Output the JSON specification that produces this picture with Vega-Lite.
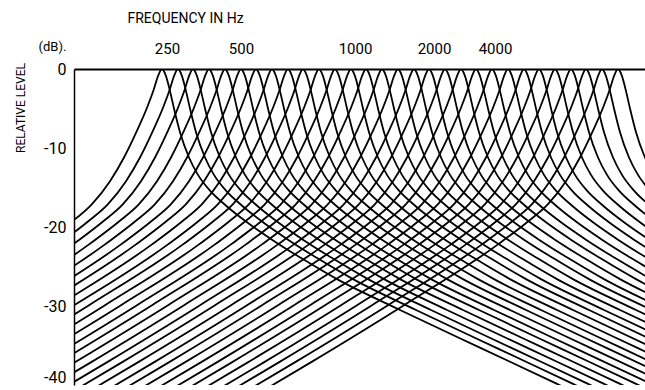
{
"$schema": "https://vega.github.io/schema/vega-lite/v6.json",
"width": 571, "height": 316,
"autosize": {"type": "none"},
"padding": {"left": 74, "top": 69, "right": 0, "bottom": 5},
"background": "white",
"config": {"view": {"stroke": null}, "font": "Roboto, Liberation Sans, sans-serif"},
"title": {"text": "RELATIVE LEVEL", "orient": "left", "anchor": "end", "frame": "group", "fontSize": 12, "fontWeight": "normal", "color": "black", "offset": 10, "dx": 6},
"data": {"values": [
{"f":0,"x":88,"y":0},{"f":0,"x":84,"y":-0.9},{"f":0,"x":80,"y":-2.5},{"f":0,"x":73,"y":-4.9},{"f":0,"x":63,"y":-7.8},{"f":0,"x":50,"y":-11.2},{"f":0,"x":36,"y":-14.2},{"f":0,"x":18,"y":-17.1},{"f":0,"x":-2,"y":-19.3},
{"f":0,"x":92,"y":-0.9},{"f":0,"x":96,"y":-2.8},{"f":0,"x":100,"y":-5},{"f":0,"x":106,"y":-8},{"f":0,"x":115,"y":-11.2},{"f":0,"x":124,"y":-13.4},{"f":0,"x":136,"y":-15.4},{"f":0,"x":153,"y":-17.4},{"f":0,"x":173,"y":-19.4},{"f":0,"x":198,"y":-21.6},{"f":0,"x":228,"y":-24},{"f":0,"x":263,"y":-26.6},{"f":0,"x":326,"y":-30.5},{"f":0,"x":408,"y":-35.4},{"f":0,"x":482,"y":-39.8},{"f":0,"x":518,"y":-42},
{"f":1,"x":104,"y":0},{"f":1,"x":100,"y":-0.9},{"f":1,"x":96,"y":-2.5},{"f":1,"x":89,"y":-4.9},{"f":1,"x":79,"y":-7.8},{"f":1,"x":66,"y":-11.2},{"f":1,"x":52,"y":-14.2},{"f":1,"x":34,"y":-17.1},{"f":1,"x":14,"y":-19.3},{"f":1,"x":-16,"y":-22.2},
{"f":1,"x":108,"y":-0.9},{"f":1,"x":112,"y":-2.8},{"f":1,"x":116,"y":-5},{"f":1,"x":122,"y":-8},{"f":1,"x":131,"y":-11.2},{"f":1,"x":140,"y":-13.4},{"f":1,"x":152,"y":-15.4},{"f":1,"x":169,"y":-17.4},{"f":1,"x":189,"y":-19.4},{"f":1,"x":214,"y":-21.6},{"f":1,"x":244,"y":-24},{"f":1,"x":279,"y":-26.6},{"f":1,"x":342,"y":-30.5},{"f":1,"x":424,"y":-35.4},{"f":1,"x":498,"y":-39.8},{"f":1,"x":534,"y":-42},
{"f":2,"x":119,"y":0},{"f":2,"x":115,"y":-0.9},{"f":2,"x":111,"y":-2.5},{"f":2,"x":104,"y":-4.9},{"f":2,"x":94,"y":-7.8},{"f":2,"x":81,"y":-11.2},{"f":2,"x":67,"y":-14.2},{"f":2,"x":49,"y":-17.1},{"f":2,"x":29,"y":-19.3},{"f":2,"x":-1,"y":-22.2},
{"f":2,"x":123,"y":-0.9},{"f":2,"x":127,"y":-2.8},{"f":2,"x":131,"y":-5},{"f":2,"x":137,"y":-8},{"f":2,"x":146,"y":-11.2},{"f":2,"x":155,"y":-13.4},{"f":2,"x":167,"y":-15.4},{"f":2,"x":184,"y":-17.4},{"f":2,"x":204,"y":-19.4},{"f":2,"x":229,"y":-21.6},{"f":2,"x":259,"y":-24},{"f":2,"x":294,"y":-26.6},{"f":2,"x":357,"y":-30.5},{"f":2,"x":439,"y":-35.4},{"f":2,"x":513,"y":-39.8},{"f":2,"x":549,"y":-42},
{"f":3,"x":135,"y":0},{"f":3,"x":131,"y":-0.9},{"f":3,"x":127,"y":-2.5},{"f":3,"x":120,"y":-4.9},{"f":3,"x":110,"y":-7.8},{"f":3,"x":97,"y":-11.2},{"f":3,"x":83,"y":-14.2},{"f":3,"x":65,"y":-17.1},{"f":3,"x":45,"y":-19.3},{"f":3,"x":15,"y":-22.2},{"f":3,"x":-79,"y":-29.9},
{"f":3,"x":139,"y":-0.9},{"f":3,"x":143,"y":-2.8},{"f":3,"x":147,"y":-5},{"f":3,"x":153,"y":-8},{"f":3,"x":162,"y":-11.2},{"f":3,"x":171,"y":-13.4},{"f":3,"x":183,"y":-15.4},{"f":3,"x":200,"y":-17.4},{"f":3,"x":220,"y":-19.4},{"f":3,"x":245,"y":-21.6},{"f":3,"x":275,"y":-24},{"f":3,"x":310,"y":-26.6},{"f":3,"x":373,"y":-30.5},{"f":3,"x":455,"y":-35.4},{"f":3,"x":529,"y":-39.8},{"f":3,"x":565,"y":-42},
{"f":4,"x":151,"y":0},{"f":4,"x":147,"y":-0.9},{"f":4,"x":143,"y":-2.5},{"f":4,"x":136,"y":-4.9},{"f":4,"x":126,"y":-7.8},{"f":4,"x":113,"y":-11.2},{"f":4,"x":99,"y":-14.2},{"f":4,"x":81,"y":-17.1},{"f":4,"x":61,"y":-19.3},{"f":4,"x":31,"y":-22.2},{"f":4,"x":-63,"y":-29.9},
{"f":4,"x":155,"y":-0.9},{"f":4,"x":159,"y":-2.8},{"f":4,"x":163,"y":-5},{"f":4,"x":169,"y":-8},{"f":4,"x":178,"y":-11.2},{"f":4,"x":187,"y":-13.4},{"f":4,"x":199,"y":-15.4},{"f":4,"x":216,"y":-17.4},{"f":4,"x":236,"y":-19.4},{"f":4,"x":261,"y":-21.6},{"f":4,"x":291,"y":-24},{"f":4,"x":326,"y":-26.6},{"f":4,"x":389,"y":-30.5},{"f":4,"x":471,"y":-35.4},{"f":4,"x":545,"y":-39.8},{"f":4,"x":581,"y":-42},
{"f":5,"x":167,"y":0},{"f":5,"x":163,"y":-0.9},{"f":5,"x":159,"y":-2.5},{"f":5,"x":152,"y":-4.9},{"f":5,"x":142,"y":-7.8},{"f":5,"x":129,"y":-11.2},{"f":5,"x":115,"y":-14.2},{"f":5,"x":97,"y":-17.1},{"f":5,"x":77,"y":-19.3},{"f":5,"x":47,"y":-22.2},{"f":5,"x":-47,"y":-29.9},
{"f":5,"x":171,"y":-0.9},{"f":5,"x":175,"y":-2.8},{"f":5,"x":179,"y":-5},{"f":5,"x":185,"y":-8},{"f":5,"x":194,"y":-11.2},{"f":5,"x":203,"y":-13.4},{"f":5,"x":215,"y":-15.4},{"f":5,"x":232,"y":-17.4},{"f":5,"x":252,"y":-19.4},{"f":5,"x":277,"y":-21.6},{"f":5,"x":307,"y":-24},{"f":5,"x":342,"y":-26.6},{"f":5,"x":405,"y":-30.5},{"f":5,"x":487,"y":-35.4},{"f":5,"x":561,"y":-39.8},{"f":5,"x":597,"y":-42},
{"f":6,"x":182,"y":0},{"f":6,"x":178,"y":-0.9},{"f":6,"x":174,"y":-2.5},{"f":6,"x":167,"y":-4.9},{"f":6,"x":157,"y":-7.8},{"f":6,"x":144,"y":-11.2},{"f":6,"x":130,"y":-14.2},{"f":6,"x":112,"y":-17.1},{"f":6,"x":92,"y":-19.3},{"f":6,"x":62,"y":-22.2},{"f":6,"x":-32,"y":-29.9},
{"f":6,"x":186,"y":-0.9},{"f":6,"x":190,"y":-2.8},{"f":6,"x":194,"y":-5},{"f":6,"x":200,"y":-8},{"f":6,"x":209,"y":-11.2},{"f":6,"x":218,"y":-13.4},{"f":6,"x":230,"y":-15.4},{"f":6,"x":247,"y":-17.4},{"f":6,"x":267,"y":-19.4},{"f":6,"x":292,"y":-21.6},{"f":6,"x":322,"y":-24},{"f":6,"x":357,"y":-26.6},{"f":6,"x":420,"y":-30.5},{"f":6,"x":502,"y":-35.4},{"f":6,"x":576,"y":-39.8},
{"f":7,"x":198,"y":0},{"f":7,"x":194,"y":-0.9},{"f":7,"x":190,"y":-2.5},{"f":7,"x":183,"y":-4.9},{"f":7,"x":173,"y":-7.8},{"f":7,"x":160,"y":-11.2},{"f":7,"x":146,"y":-14.2},{"f":7,"x":128,"y":-17.1},{"f":7,"x":108,"y":-19.3},{"f":7,"x":78,"y":-22.2},{"f":7,"x":-16,"y":-29.9},
{"f":7,"x":202,"y":-0.9},{"f":7,"x":206,"y":-2.8},{"f":7,"x":210,"y":-5},{"f":7,"x":216,"y":-8},{"f":7,"x":225,"y":-11.2},{"f":7,"x":234,"y":-13.4},{"f":7,"x":246,"y":-15.4},{"f":7,"x":263,"y":-17.4},{"f":7,"x":283,"y":-19.4},{"f":7,"x":308,"y":-21.6},{"f":7,"x":338,"y":-24},{"f":7,"x":373,"y":-26.6},{"f":7,"x":436,"y":-30.5},{"f":7,"x":518,"y":-35.4},{"f":7,"x":592,"y":-39.8},
{"f":8,"x":214,"y":0},{"f":8,"x":210,"y":-0.9},{"f":8,"x":206,"y":-2.5},{"f":8,"x":199,"y":-4.9},{"f":8,"x":189,"y":-7.8},{"f":8,"x":176,"y":-11.2},{"f":8,"x":162,"y":-14.2},{"f":8,"x":144,"y":-17.1},{"f":8,"x":124,"y":-19.3},{"f":8,"x":94,"y":-22.2},{"f":8,"x":0,"y":-29.9},
{"f":8,"x":218,"y":-0.9},{"f":8,"x":222,"y":-2.8},{"f":8,"x":226,"y":-5},{"f":8,"x":232,"y":-8},{"f":8,"x":241,"y":-11.2},{"f":8,"x":250,"y":-13.4},{"f":8,"x":262,"y":-15.4},{"f":8,"x":279,"y":-17.4},{"f":8,"x":299,"y":-19.4},{"f":8,"x":324,"y":-21.6},{"f":8,"x":354,"y":-24},{"f":8,"x":389,"y":-26.6},{"f":8,"x":452,"y":-30.5},{"f":8,"x":534,"y":-35.4},{"f":8,"x":608,"y":-39.8},
{"f":9,"x":229,"y":0},{"f":9,"x":225,"y":-0.9},{"f":9,"x":221,"y":-2.5},{"f":9,"x":214,"y":-4.9},{"f":9,"x":204,"y":-7.8},{"f":9,"x":191,"y":-11.2},{"f":9,"x":177,"y":-14.2},{"f":9,"x":159,"y":-17.1},{"f":9,"x":139,"y":-19.3},{"f":9,"x":109,"y":-22.2},{"f":9,"x":15,"y":-29.9},{"f":9,"x":-79,"y":-37.2},
{"f":9,"x":233,"y":-0.9},{"f":9,"x":237,"y":-2.8},{"f":9,"x":241,"y":-5},{"f":9,"x":247,"y":-8},{"f":9,"x":256,"y":-11.2},{"f":9,"x":265,"y":-13.4},{"f":9,"x":277,"y":-15.4},{"f":9,"x":294,"y":-17.4},{"f":9,"x":314,"y":-19.4},{"f":9,"x":339,"y":-21.6},{"f":9,"x":369,"y":-24},{"f":9,"x":404,"y":-26.6},{"f":9,"x":467,"y":-30.5},{"f":9,"x":549,"y":-35.4},{"f":9,"x":623,"y":-39.8},
{"f":10,"x":245,"y":0},{"f":10,"x":241,"y":-0.9},{"f":10,"x":237,"y":-2.5},{"f":10,"x":230,"y":-4.9},{"f":10,"x":220,"y":-7.8},{"f":10,"x":207,"y":-11.2},{"f":10,"x":193,"y":-14.2},{"f":10,"x":175,"y":-17.1},{"f":10,"x":155,"y":-19.3},{"f":10,"x":125,"y":-22.2},{"f":10,"x":31,"y":-29.9},{"f":10,"x":-63,"y":-37.2},
{"f":10,"x":249,"y":-0.9},{"f":10,"x":253,"y":-2.8},{"f":10,"x":257,"y":-5},{"f":10,"x":263,"y":-8},{"f":10,"x":272,"y":-11.2},{"f":10,"x":281,"y":-13.4},{"f":10,"x":293,"y":-15.4},{"f":10,"x":310,"y":-17.4},{"f":10,"x":330,"y":-19.4},{"f":10,"x":355,"y":-21.6},{"f":10,"x":385,"y":-24},{"f":10,"x":420,"y":-26.6},{"f":10,"x":483,"y":-30.5},{"f":10,"x":565,"y":-35.4},{"f":10,"x":639,"y":-39.8},
{"f":11,"x":261,"y":0},{"f":11,"x":257,"y":-0.9},{"f":11,"x":253,"y":-2.5},{"f":11,"x":246,"y":-4.9},{"f":11,"x":236,"y":-7.8},{"f":11,"x":223,"y":-11.2},{"f":11,"x":209,"y":-14.2},{"f":11,"x":191,"y":-17.1},{"f":11,"x":171,"y":-19.3},{"f":11,"x":141,"y":-22.2},{"f":11,"x":47,"y":-29.9},{"f":11,"x":-47,"y":-37.2},
{"f":11,"x":265,"y":-0.9},{"f":11,"x":269,"y":-2.8},{"f":11,"x":273,"y":-5},{"f":11,"x":279,"y":-8},{"f":11,"x":288,"y":-11.2},{"f":11,"x":297,"y":-13.4},{"f":11,"x":309,"y":-15.4},{"f":11,"x":326,"y":-17.4},{"f":11,"x":346,"y":-19.4},{"f":11,"x":371,"y":-21.6},{"f":11,"x":401,"y":-24},{"f":11,"x":436,"y":-26.6},{"f":11,"x":499,"y":-30.5},{"f":11,"x":581,"y":-35.4},
{"f":12,"x":277,"y":0},{"f":12,"x":273,"y":-0.9},{"f":12,"x":269,"y":-2.5},{"f":12,"x":262,"y":-4.9},{"f":12,"x":252,"y":-7.8},{"f":12,"x":239,"y":-11.2},{"f":12,"x":225,"y":-14.2},{"f":12,"x":207,"y":-17.1},{"f":12,"x":187,"y":-19.3},{"f":12,"x":157,"y":-22.2},{"f":12,"x":63,"y":-29.9},{"f":12,"x":-31,"y":-37.2},
{"f":12,"x":281,"y":-0.9},{"f":12,"x":285,"y":-2.8},{"f":12,"x":289,"y":-5},{"f":12,"x":295,"y":-8},{"f":12,"x":304,"y":-11.2},{"f":12,"x":313,"y":-13.4},{"f":12,"x":325,"y":-15.4},{"f":12,"x":342,"y":-17.4},{"f":12,"x":362,"y":-19.4},{"f":12,"x":387,"y":-21.6},{"f":12,"x":417,"y":-24},{"f":12,"x":452,"y":-26.6},{"f":12,"x":515,"y":-30.5},{"f":12,"x":597,"y":-35.4},
{"f":13,"x":292,"y":0},{"f":13,"x":288,"y":-0.9},{"f":13,"x":284,"y":-2.5},{"f":13,"x":277,"y":-4.9},{"f":13,"x":267,"y":-7.8},{"f":13,"x":254,"y":-11.2},{"f":13,"x":240,"y":-14.2},{"f":13,"x":222,"y":-17.1},{"f":13,"x":202,"y":-19.3},{"f":13,"x":172,"y":-22.2},{"f":13,"x":78,"y":-29.9},{"f":13,"x":-16,"y":-37.2},
{"f":13,"x":296,"y":-0.9},{"f":13,"x":300,"y":-2.8},{"f":13,"x":304,"y":-5},{"f":13,"x":310,"y":-8},{"f":13,"x":319,"y":-11.2},{"f":13,"x":328,"y":-13.4},{"f":13,"x":340,"y":-15.4},{"f":13,"x":357,"y":-17.4},{"f":13,"x":377,"y":-19.4},{"f":13,"x":402,"y":-21.6},{"f":13,"x":432,"y":-24},{"f":13,"x":467,"y":-26.6},{"f":13,"x":530,"y":-30.5},{"f":13,"x":612,"y":-35.4},
{"f":14,"x":308,"y":0},{"f":14,"x":304,"y":-0.9},{"f":14,"x":300,"y":-2.5},{"f":14,"x":293,"y":-4.9},{"f":14,"x":283,"y":-7.8},{"f":14,"x":270,"y":-11.2},{"f":14,"x":256,"y":-14.2},{"f":14,"x":238,"y":-17.1},{"f":14,"x":218,"y":-19.3},{"f":14,"x":188,"y":-22.2},{"f":14,"x":94,"y":-29.9},{"f":14,"x":0,"y":-37.2},
{"f":14,"x":312,"y":-0.9},{"f":14,"x":316,"y":-2.8},{"f":14,"x":320,"y":-5},{"f":14,"x":326,"y":-8},{"f":14,"x":335,"y":-11.2},{"f":14,"x":344,"y":-13.4},{"f":14,"x":356,"y":-15.4},{"f":14,"x":373,"y":-17.4},{"f":14,"x":393,"y":-19.4},{"f":14,"x":418,"y":-21.6},{"f":14,"x":448,"y":-24},{"f":14,"x":483,"y":-26.6},{"f":14,"x":546,"y":-30.5},{"f":14,"x":628,"y":-35.4},
{"f":15,"x":324,"y":0},{"f":15,"x":320,"y":-0.9},{"f":15,"x":316,"y":-2.5},{"f":15,"x":309,"y":-4.9},{"f":15,"x":299,"y":-7.8},{"f":15,"x":286,"y":-11.2},{"f":15,"x":272,"y":-14.2},{"f":15,"x":254,"y":-17.1},{"f":15,"x":234,"y":-19.3},{"f":15,"x":204,"y":-22.2},{"f":15,"x":110,"y":-29.9},{"f":15,"x":16,"y":-37.2},{"f":15,"x":-48,"y":-42},
{"f":15,"x":328,"y":-0.9},{"f":15,"x":332,"y":-2.8},{"f":15,"x":336,"y":-5},{"f":15,"x":342,"y":-8},{"f":15,"x":351,"y":-11.2},{"f":15,"x":360,"y":-13.4},{"f":15,"x":372,"y":-15.4},{"f":15,"x":389,"y":-17.4},{"f":15,"x":409,"y":-19.4},{"f":15,"x":434,"y":-21.6},{"f":15,"x":464,"y":-24},{"f":15,"x":499,"y":-26.6},{"f":15,"x":562,"y":-30.5},{"f":15,"x":644,"y":-35.4},
{"f":16,"x":340,"y":0},{"f":16,"x":336,"y":-0.9},{"f":16,"x":332,"y":-2.5},{"f":16,"x":325,"y":-4.9},{"f":16,"x":315,"y":-7.8},{"f":16,"x":302,"y":-11.2},{"f":16,"x":288,"y":-14.2},{"f":16,"x":270,"y":-17.1},{"f":16,"x":250,"y":-19.3},{"f":16,"x":220,"y":-22.2},{"f":16,"x":126,"y":-29.9},{"f":16,"x":32,"y":-37.2},{"f":16,"x":-32,"y":-42},
{"f":16,"x":344,"y":-0.9},{"f":16,"x":348,"y":-2.8},{"f":16,"x":352,"y":-5},{"f":16,"x":358,"y":-8},{"f":16,"x":367,"y":-11.2},{"f":16,"x":376,"y":-13.4},{"f":16,"x":388,"y":-15.4},{"f":16,"x":405,"y":-17.4},{"f":16,"x":425,"y":-19.4},{"f":16,"x":450,"y":-21.6},{"f":16,"x":480,"y":-24},{"f":16,"x":515,"y":-26.6},{"f":16,"x":578,"y":-30.5},
{"f":17,"x":355,"y":0},{"f":17,"x":351,"y":-0.9},{"f":17,"x":347,"y":-2.5},{"f":17,"x":340,"y":-4.9},{"f":17,"x":330,"y":-7.8},{"f":17,"x":317,"y":-11.2},{"f":17,"x":303,"y":-14.2},{"f":17,"x":285,"y":-17.1},{"f":17,"x":265,"y":-19.3},{"f":17,"x":235,"y":-22.2},{"f":17,"x":141,"y":-29.9},{"f":17,"x":47,"y":-37.2},{"f":17,"x":-17,"y":-42},
{"f":17,"x":359,"y":-0.9},{"f":17,"x":363,"y":-2.8},{"f":17,"x":367,"y":-5},{"f":17,"x":373,"y":-8},{"f":17,"x":382,"y":-11.2},{"f":17,"x":391,"y":-13.4},{"f":17,"x":403,"y":-15.4},{"f":17,"x":420,"y":-17.4},{"f":17,"x":440,"y":-19.4},{"f":17,"x":465,"y":-21.6},{"f":17,"x":495,"y":-24},{"f":17,"x":530,"y":-26.6},{"f":17,"x":593,"y":-30.5},
{"f":18,"x":371,"y":0},{"f":18,"x":367,"y":-0.9},{"f":18,"x":363,"y":-2.5},{"f":18,"x":356,"y":-4.9},{"f":18,"x":346,"y":-7.8},{"f":18,"x":333,"y":-11.2},{"f":18,"x":319,"y":-14.2},{"f":18,"x":301,"y":-17.1},{"f":18,"x":281,"y":-19.3},{"f":18,"x":251,"y":-22.2},{"f":18,"x":157,"y":-29.9},{"f":18,"x":63,"y":-37.2},{"f":18,"x":-1,"y":-42},
{"f":18,"x":375,"y":-0.9},{"f":18,"x":379,"y":-2.8},{"f":18,"x":383,"y":-5},{"f":18,"x":389,"y":-8},{"f":18,"x":398,"y":-11.2},{"f":18,"x":407,"y":-13.4},{"f":18,"x":419,"y":-15.4},{"f":18,"x":436,"y":-17.4},{"f":18,"x":456,"y":-19.4},{"f":18,"x":481,"y":-21.6},{"f":18,"x":511,"y":-24},{"f":18,"x":546,"y":-26.6},{"f":18,"x":609,"y":-30.5},
{"f":19,"x":387,"y":0},{"f":19,"x":383,"y":-0.9},{"f":19,"x":379,"y":-2.5},{"f":19,"x":372,"y":-4.9},{"f":19,"x":362,"y":-7.8},{"f":19,"x":349,"y":-11.2},{"f":19,"x":335,"y":-14.2},{"f":19,"x":317,"y":-17.1},{"f":19,"x":297,"y":-19.3},{"f":19,"x":267,"y":-22.2},{"f":19,"x":173,"y":-29.9},{"f":19,"x":79,"y":-37.2},{"f":19,"x":15,"y":-42},
{"f":19,"x":391,"y":-0.9},{"f":19,"x":395,"y":-2.8},{"f":19,"x":399,"y":-5},{"f":19,"x":405,"y":-8},{"f":19,"x":414,"y":-11.2},{"f":19,"x":423,"y":-13.4},{"f":19,"x":435,"y":-15.4},{"f":19,"x":452,"y":-17.4},{"f":19,"x":472,"y":-19.4},{"f":19,"x":497,"y":-21.6},{"f":19,"x":527,"y":-24},{"f":19,"x":562,"y":-26.6},{"f":19,"x":625,"y":-30.5},
{"f":20,"x":402,"y":0},{"f":20,"x":398,"y":-0.9},{"f":20,"x":394,"y":-2.5},{"f":20,"x":387,"y":-4.9},{"f":20,"x":377,"y":-7.8},{"f":20,"x":364,"y":-11.2},{"f":20,"x":350,"y":-14.2},{"f":20,"x":332,"y":-17.1},{"f":20,"x":312,"y":-19.3},{"f":20,"x":282,"y":-22.2},{"f":20,"x":188,"y":-29.9},{"f":20,"x":94,"y":-37.2},{"f":20,"x":30,"y":-42},
{"f":20,"x":406,"y":-0.9},{"f":20,"x":410,"y":-2.8},{"f":20,"x":414,"y":-5},{"f":20,"x":420,"y":-8},{"f":20,"x":429,"y":-11.2},{"f":20,"x":438,"y":-13.4},{"f":20,"x":450,"y":-15.4},{"f":20,"x":467,"y":-17.4},{"f":20,"x":487,"y":-19.4},{"f":20,"x":512,"y":-21.6},{"f":20,"x":542,"y":-24},{"f":20,"x":577,"y":-26.6},
{"f":21,"x":418,"y":0},{"f":21,"x":414,"y":-0.9},{"f":21,"x":410,"y":-2.5},{"f":21,"x":403,"y":-4.9},{"f":21,"x":393,"y":-7.8},{"f":21,"x":380,"y":-11.2},{"f":21,"x":366,"y":-14.2},{"f":21,"x":348,"y":-17.1},{"f":21,"x":328,"y":-19.3},{"f":21,"x":298,"y":-22.2},{"f":21,"x":204,"y":-29.9},{"f":21,"x":110,"y":-37.2},{"f":21,"x":46,"y":-42},
{"f":21,"x":422,"y":-0.9},{"f":21,"x":426,"y":-2.8},{"f":21,"x":430,"y":-5},{"f":21,"x":436,"y":-8},{"f":21,"x":445,"y":-11.2},{"f":21,"x":454,"y":-13.4},{"f":21,"x":466,"y":-15.4},{"f":21,"x":483,"y":-17.4},{"f":21,"x":503,"y":-19.4},{"f":21,"x":528,"y":-21.6},{"f":21,"x":558,"y":-24},{"f":21,"x":593,"y":-26.6},
{"f":22,"x":434,"y":0},{"f":22,"x":430,"y":-0.9},{"f":22,"x":426,"y":-2.5},{"f":22,"x":419,"y":-4.9},{"f":22,"x":409,"y":-7.8},{"f":22,"x":396,"y":-11.2},{"f":22,"x":382,"y":-14.2},{"f":22,"x":364,"y":-17.1},{"f":22,"x":344,"y":-19.3},{"f":22,"x":314,"y":-22.2},{"f":22,"x":220,"y":-29.9},{"f":22,"x":126,"y":-37.2},{"f":22,"x":62,"y":-42},
{"f":22,"x":438,"y":-0.9},{"f":22,"x":442,"y":-2.8},{"f":22,"x":446,"y":-5},{"f":22,"x":452,"y":-8},{"f":22,"x":461,"y":-11.2},{"f":22,"x":470,"y":-13.4},{"f":22,"x":482,"y":-15.4},{"f":22,"x":499,"y":-17.4},{"f":22,"x":519,"y":-19.4},{"f":22,"x":544,"y":-21.6},{"f":22,"x":574,"y":-24},
{"f":23,"x":450,"y":0},{"f":23,"x":446,"y":-0.9},{"f":23,"x":442,"y":-2.5},{"f":23,"x":435,"y":-4.9},{"f":23,"x":425,"y":-7.8},{"f":23,"x":412,"y":-11.2},{"f":23,"x":398,"y":-14.2},{"f":23,"x":380,"y":-17.1},{"f":23,"x":360,"y":-19.3},{"f":23,"x":330,"y":-22.2},{"f":23,"x":236,"y":-29.9},{"f":23,"x":142,"y":-37.2},{"f":23,"x":78,"y":-42},
{"f":23,"x":454,"y":-0.9},{"f":23,"x":458,"y":-2.8},{"f":23,"x":462,"y":-5},{"f":23,"x":468,"y":-8},{"f":23,"x":477,"y":-11.2},{"f":23,"x":486,"y":-13.4},{"f":23,"x":498,"y":-15.4},{"f":23,"x":515,"y":-17.4},{"f":23,"x":535,"y":-19.4},{"f":23,"x":560,"y":-21.6},{"f":23,"x":590,"y":-24},
{"f":24,"x":465,"y":0},{"f":24,"x":461,"y":-0.9},{"f":24,"x":457,"y":-2.5},{"f":24,"x":450,"y":-4.9},{"f":24,"x":440,"y":-7.8},{"f":24,"x":427,"y":-11.2},{"f":24,"x":413,"y":-14.2},{"f":24,"x":395,"y":-17.1},{"f":24,"x":375,"y":-19.3},{"f":24,"x":345,"y":-22.2},{"f":24,"x":251,"y":-29.9},{"f":24,"x":157,"y":-37.2},{"f":24,"x":93,"y":-42},
{"f":24,"x":469,"y":-0.9},{"f":24,"x":473,"y":-2.8},{"f":24,"x":477,"y":-5},{"f":24,"x":483,"y":-8},{"f":24,"x":492,"y":-11.2},{"f":24,"x":501,"y":-13.4},{"f":24,"x":513,"y":-15.4},{"f":24,"x":530,"y":-17.4},{"f":24,"x":550,"y":-19.4},{"f":24,"x":575,"y":-21.6},
{"f":25,"x":481,"y":0},{"f":25,"x":477,"y":-0.9},{"f":25,"x":473,"y":-2.5},{"f":25,"x":466,"y":-4.9},{"f":25,"x":456,"y":-7.8},{"f":25,"x":443,"y":-11.2},{"f":25,"x":429,"y":-14.2},{"f":25,"x":411,"y":-17.1},{"f":25,"x":391,"y":-19.3},{"f":25,"x":361,"y":-22.2},{"f":25,"x":267,"y":-29.9},{"f":25,"x":173,"y":-37.2},{"f":25,"x":109,"y":-42},
{"f":25,"x":485,"y":-0.9},{"f":25,"x":489,"y":-2.8},{"f":25,"x":493,"y":-5},{"f":25,"x":499,"y":-8},{"f":25,"x":508,"y":-11.2},{"f":25,"x":517,"y":-13.4},{"f":25,"x":529,"y":-15.4},{"f":25,"x":546,"y":-17.4},{"f":25,"x":566,"y":-19.4},{"f":25,"x":591,"y":-21.6},
{"f":26,"x":497,"y":0},{"f":26,"x":493,"y":-0.9},{"f":26,"x":489,"y":-2.5},{"f":26,"x":482,"y":-4.9},{"f":26,"x":472,"y":-7.8},{"f":26,"x":459,"y":-11.2},{"f":26,"x":445,"y":-14.2},{"f":26,"x":427,"y":-17.1},{"f":26,"x":407,"y":-19.3},{"f":26,"x":377,"y":-22.2},{"f":26,"x":283,"y":-29.9},{"f":26,"x":189,"y":-37.2},{"f":26,"x":125,"y":-42},
{"f":26,"x":501,"y":-0.9},{"f":26,"x":505,"y":-2.8},{"f":26,"x":509,"y":-5},{"f":26,"x":515,"y":-8},{"f":26,"x":524,"y":-11.2},{"f":26,"x":533,"y":-13.4},{"f":26,"x":545,"y":-15.4},{"f":26,"x":562,"y":-17.4},{"f":26,"x":582,"y":-19.4},
{"f":27,"x":512,"y":0},{"f":27,"x":508,"y":-0.9},{"f":27,"x":504,"y":-2.5},{"f":27,"x":497,"y":-4.9},{"f":27,"x":487,"y":-7.8},{"f":27,"x":474,"y":-11.2},{"f":27,"x":460,"y":-14.2},{"f":27,"x":442,"y":-17.1},{"f":27,"x":422,"y":-19.3},{"f":27,"x":392,"y":-22.2},{"f":27,"x":298,"y":-29.9},{"f":27,"x":204,"y":-37.2},{"f":27,"x":140,"y":-42},
{"f":27,"x":516,"y":-0.9},{"f":27,"x":520,"y":-2.8},{"f":27,"x":524,"y":-5},{"f":27,"x":530,"y":-8},{"f":27,"x":539,"y":-11.2},{"f":27,"x":548,"y":-13.4},{"f":27,"x":560,"y":-15.4},{"f":27,"x":577,"y":-17.4},
{"f":28,"x":528,"y":0},{"f":28,"x":524,"y":-0.9},{"f":28,"x":520,"y":-2.5},{"f":28,"x":513,"y":-4.9},{"f":28,"x":503,"y":-7.8},{"f":28,"x":490,"y":-11.2},{"f":28,"x":476,"y":-14.2},{"f":28,"x":458,"y":-17.1},{"f":28,"x":438,"y":-19.3},{"f":28,"x":408,"y":-22.2},{"f":28,"x":314,"y":-29.9},{"f":28,"x":220,"y":-37.2},{"f":28,"x":156,"y":-42},
{"f":28,"x":532,"y":-0.9},{"f":28,"x":536,"y":-2.8},{"f":28,"x":540,"y":-5},{"f":28,"x":546,"y":-8},{"f":28,"x":555,"y":-11.2},{"f":28,"x":564,"y":-13.4},{"f":28,"x":576,"y":-15.4},
{"f":29,"x":544,"y":0},{"f":29,"x":540,"y":-0.9},{"f":29,"x":536,"y":-2.5},{"f":29,"x":529,"y":-4.9},{"f":29,"x":519,"y":-7.8},{"f":29,"x":506,"y":-11.2},{"f":29,"x":492,"y":-14.2},{"f":29,"x":474,"y":-17.1},{"f":29,"x":454,"y":-19.3},{"f":29,"x":424,"y":-22.2},{"f":29,"x":330,"y":-29.9},{"f":29,"x":236,"y":-37.2},{"f":29,"x":172,"y":-42},
{"f":29,"x":548,"y":-0.9},{"f":29,"x":552,"y":-2.8},{"f":29,"x":556,"y":-5},{"f":29,"x":562,"y":-8},{"f":29,"x":571,"y":-11.2},{"f":29,"x":580,"y":-13.4}
]},
"mark": {"type": "line", "clip": true, "color": "black", "strokeWidth": 1.8, "interpolate": "monotone"},
"encoding": {
  "x": {"field": "x", "type": "quantitative", "scale": {"domain": [0, 571], "nice": false, "zero": false},
    "axis": {"orient": "top", "values": [93, 167, 281, 360, 421],
      "labelExpr": "{'93':'250','167':'500','281':'1000','360':'2000','421':'4000'}[datum.value]",
      "ticks": false, "grid": false, "domainColor": "black", "domainWidth": 2,
      "labelFontSize": 15, "labelColor": "black", "labelPadding": 13,
      "title": "FREQUENCY IN Hz", "titleFontSize": 14, "titleFontWeight": "normal", "titleColor": "black",
      "titleX": 111, "titleY": -51, "titleAlign": "center", "titleBaseline": "middle"}},
  "y": {"field": "y", "type": "quantitative", "scale": {"domain": [-40, 0], "nice": false, "zero": false},
    "axis": {"values": [0, -10, -20, -30, -40], "labelExpr": "'' + datum.value",
      "labelBaseline": {"condition": {"test": "datum.value == -40", "value": "bottom"}, "value": "middle"},
      "ticks": false, "grid": false, "domainColor": "black", "domainWidth": 1.5,
      "labelFontSize": 16, "labelColor": "black", "labelPadding": 8,
      "title": "(dB).", "titleAngle": 0, "titleFontSize": 13, "titleFontWeight": "normal", "titleColor": "black",
      "titleX": -22, "titleY": -23, "titleAlign": "center", "titleBaseline": "middle"}},
  "detail": {"field": "f", "type": "nominal"}
}
}
